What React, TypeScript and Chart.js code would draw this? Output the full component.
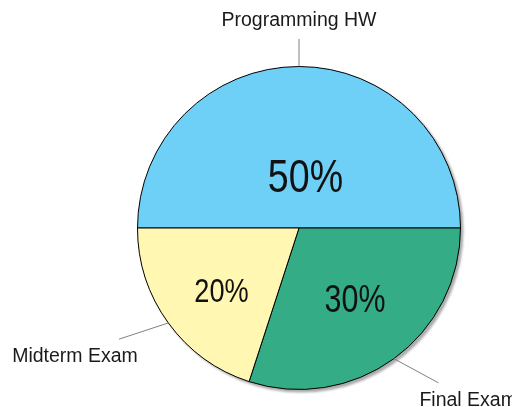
import React, { useEffect, useRef } from "react";
import { Chart, registerables } from "chart.js";

Chart.register(...registerables);

const categories = ["Programming HW", "Final Exam", "Midterm Exam"];
const values = [50, 30, 20];
const valueLabels = ["50%", "30%", "20%"];
const colors = ["#6ED0F6", "#34AD86", "#FFF7B2"];
// styling for in-slice labels: font size, radial fraction, angle shift (deg)
const valueFontSizes = [47, 38, 34];
const valueRadius = [0.33, 0.557, 0.615];
const valueAngleShift = [7, -2.5, -2.7];
// leader lines: angle shift (deg), radial factor, text offset from leader end
const leaderAngleShift = [0, -6, 4.3];
const leaderRadius = [1.17, 1.29, 1.31];
const textOffset: [number, number, CanvasTextAlign][] = [
  [0, -13, "center"],
  [-19, 23, "left"],
  [-44, 23, "center"],
];

const FONT = "'Liberation Sans', Arial, sans-serif";

const piePlugin = {
  id: "pieDecor",
  beforeDatasetsDraw(chart: any) {
    const meta = chart.getDatasetMeta(0);
    const arc = meta.data[0];
    if (!arc) return;
    const { x, y, outerRadius } = arc.getProps(["x", "y", "outerRadius"], true);
    const ctx = chart.ctx;
    ctx.save();
    ctx.filter = "blur(1.2px)";
    ctx.fillStyle = "rgba(0,0,0,0.33)";
    ctx.beginPath();
    ctx.arc(x + 2.5, y + 2.5, outerRadius + 0.5, 0, Math.PI * 2);
    ctx.fill();
    ctx.restore();
  },
  afterDatasetsDraw(chart: any) {
    const meta = chart.getDatasetMeta(0);
    const ctx = chart.ctx;
    ctx.save();
    meta.data.forEach((el: any, i: number) => {
      const { x, y, startAngle, endAngle, outerRadius } = el.getProps(
        ["x", "y", "startAngle", "endAngle", "outerRadius"],
        true
      );
      const mid = (startAngle + endAngle) / 2;
      // value label
      const va = mid + (valueAngleShift[i] * Math.PI) / 180;
      const r = outerRadius * valueRadius[i];
      const tx = x + Math.cos(va) * r;
      const ty = y + Math.sin(va) * r;
      ctx.save();
      ctx.translate(tx, ty + 0.358 * valueFontSizes[i]);
      ctx.scale(0.8, 1);
      ctx.fillStyle = "#111";
      ctx.font = `${valueFontSizes[i]}px ${FONT}`;
      ctx.textAlign = "center";
      ctx.textBaseline = "alphabetic";
      ctx.fillText(valueLabels[i], 0, 0);
      ctx.restore();
      // leader line
      const sx = x + Math.cos(mid) * outerRadius;
      const sy = y + Math.sin(mid) * outerRadius;
      const la = mid + (leaderAngleShift[i] * Math.PI) / 180;
      const ex = x + Math.cos(la) * outerRadius * leaderRadius[i];
      const ey = y + Math.sin(la) * outerRadius * leaderRadius[i];
      ctx.strokeStyle = "#808080";
      ctx.lineWidth = 1;
      ctx.beginPath();
      ctx.moveTo(sx, sy);
      ctx.lineTo(ex, ey);
      ctx.stroke();
      const [ox, oy, align] = textOffset[i];
      ctx.fillStyle = "#1a1a1a";
      ctx.font = `19.5px ${FONT}`;
      ctx.textAlign = align;
      ctx.textBaseline = "alphabetic";
      ctx.fillText(categories[i], ex + ox, ey + oy);
    });
    ctx.restore();
  },
};

export default function App() {
  const ref = useRef<HTMLCanvasElement | null>(null);
  useEffect(() => {
    if (!ref.current) return;
    const chart = new Chart(ref.current, {
      type: "doughnut",
      data: {
        labels: categories,
        datasets: [
          {
            data: values,
            backgroundColor: colors,
            borderColor: "#000",
            borderWidth: 1,
            borderAlign: "center",
          },
        ],
      },
      options: {
        responsive: false,
        animation: false,
        cutout: 0,
        rotation: -90,
        layout: { padding: { left: 137, right: 51, top: 66, bottom: 17 } },
        plugins: {
          legend: { display: false },
          tooltip: { enabled: false },
        },
      },
      plugins: [piePlugin],
    });
    return () => chart.destroy();
  }, []);
  return (
    <div style={{ position: "fixed", left: 0, top: 0, width: 512, height: 407, background: "#fff" }}>
      <canvas ref={ref} width={512} height={407} style={{ width: 512, height: 407 }} />
    </div>
  );
}
